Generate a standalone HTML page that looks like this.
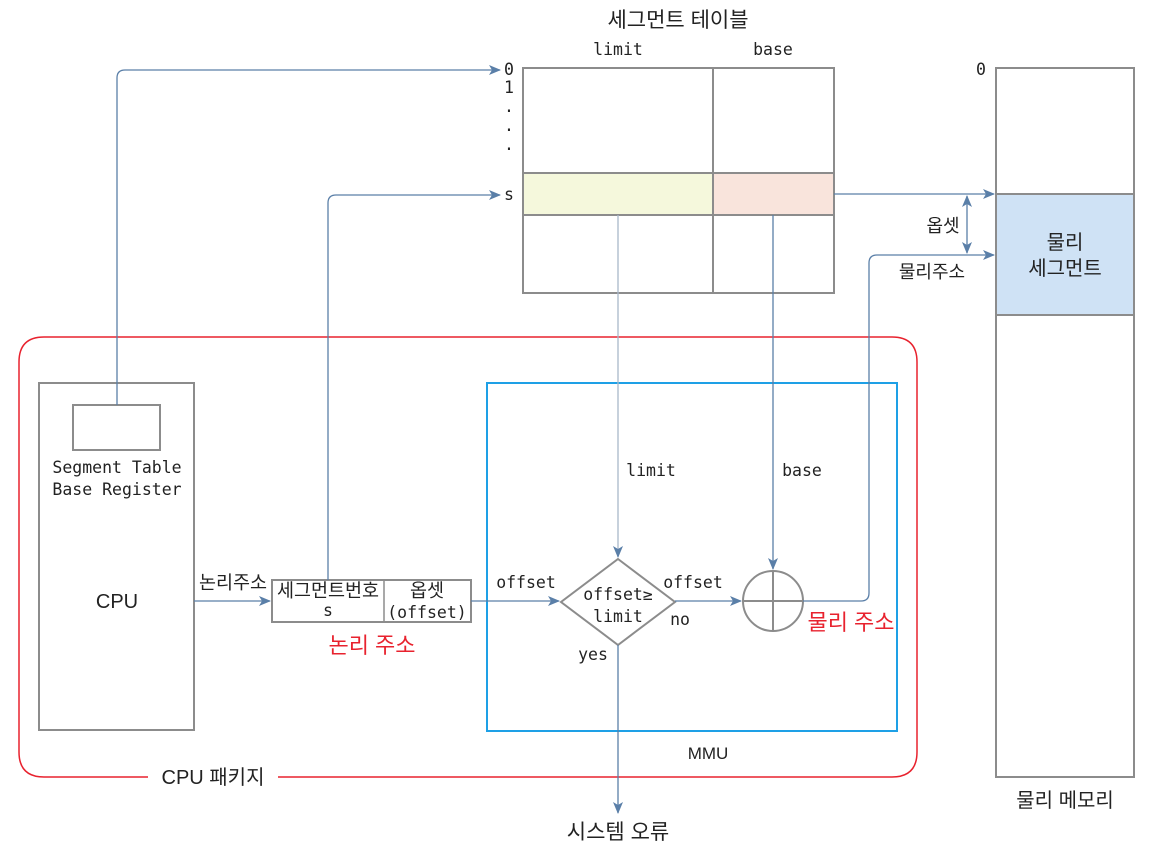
<!DOCTYPE html>
<html><head><meta charset="utf-8"><style>
html,body{margin:0;padding:0;background:#fff;}
svg{display:block;}
text{font-family:"Liberation Sans","Noto Sans CJK KR",sans-serif;font-size:20px;fill:#222;}
.m{font-family:"DejaVu Sans Mono","Liberation Mono","Noto Sans CJK KR",monospace;font-size:16.5px;}
.red{fill:#e8222e;font-size:22px;}
</style></head><body>
<svg width="1152" height="848" viewBox="0 0 1152 848" xmlns="http://www.w3.org/2000/svg">
<defs>
<marker id="a" markerWidth="12" markerHeight="10" refX="11" refY="5" orient="auto" markerUnits="userSpaceOnUse">
<path d="M0,0 L12,5 L0,10 L3,5 z" fill="#5a7fa8"/></marker>
<marker id="as" markerWidth="12" markerHeight="10" refX="1" refY="5" orient="auto" markerUnits="userSpaceOnUse">
<path d="M12,0 L0,5 L12,10 L9,5 z" fill="#5a7fa8"/></marker>
</defs>
<g fill="none" stroke-width="1.5">
<rect x="523" y="173" width="190" height="42" fill="#f5f8dc" stroke="none"/>
<rect x="713" y="173" width="121" height="42" fill="#f9e4dc" stroke="none"/>
<rect x="523" y="68" width="311" height="225" stroke="#8c8c8c" stroke-width="2"/>
<line x1="713" y1="68" x2="713" y2="293" stroke="#8c8c8c" stroke-width="2"/>
<line x1="523" y1="173" x2="834" y2="173" stroke="#8c8c8c" stroke-width="2"/>
<line x1="523" y1="215" x2="834" y2="215" stroke="#8c8c8c" stroke-width="2"/>
<rect x="996" y="194" width="138" height="121" fill="#cfe2f5" stroke="none"/>
<rect x="996" y="68" width="138" height="709" stroke="#8c8c8c" stroke-width="2"/>
<line x1="996" y1="194" x2="1134" y2="194" stroke="#8c8c8c" stroke-width="2"/>
<line x1="996" y1="315" x2="1134" y2="315" stroke="#8c8c8c" stroke-width="2"/>
<path d="M148,777 L44,777 Q19,777 19,752 L19,362 Q19,337 44,337 L892,337 Q917,337 917,362 L917,752 Q917,777 892,777 L278,777" stroke="#e8222e"/>
<rect x="39" y="383" width="155" height="347" stroke="#8c8c8c" stroke-width="2"/>
<rect x="73" y="405" width="87" height="45" stroke="#8c8c8c" stroke-width="2"/>
<rect x="487" y="383" width="410" height="348" stroke="#1ea0e6" stroke-width="2"/>
<rect x="272" y="580" width="199" height="42" stroke="#8c8c8c" stroke-width="2"/>
<line x1="384" y1="580" x2="384" y2="622" stroke="#8c8c8c" stroke-width="1.5"/>
<path d="M618,559 L675,602 L618,645 L561,602 z" stroke="#8c8c8c" stroke-width="2"/>
<circle cx="773" cy="601" r="30" stroke="#8c8c8c" stroke-width="2"/>
<line x1="743" y1="601" x2="803" y2="601" stroke="#8c8c8c" stroke-width="2"/>
<line x1="773" y1="571" x2="773" y2="631" stroke="#8c8c8c" stroke-width="2"/>
<g stroke="#5a7fa8" stroke-width="1.3">
<path d="M117,405 L117,78 Q117,70 125,70 L500,70" marker-end="url(#a)"/>
<path d="M328,580 L328,203 Q328,195 336,195 L500,195" marker-end="url(#a)"/>
<path d="M618,215 L618,557" stroke="#a9b8c9" marker-end="url(#a)"/>
<path d="M773,215 L773,569" marker-end="url(#a)"/>
<path d="M194,601 L270,601" marker-end="url(#a)"/>
<path d="M471,601 L559,601" marker-end="url(#a)"/>
<path d="M675,601 L741,601" marker-end="url(#a)"/>
<path d="M803,601 L861,601 Q869,601 869,593 L869,263 Q869,255 877,255 L994,255" marker-end="url(#a)"/>
<path d="M834,194 L994,194" marker-end="url(#a)"/>
<path d="M967,196 L967,253" marker-start="url(#as)" marker-end="url(#a)"/>
<path d="M618,645 L618,813" marker-end="url(#a)"/>
</g>
</g>
<text x="678" y="27" text-anchor="middle" style="font-size:21px">세그먼트 테이블</text>
<text class="m" x="618" y="55" text-anchor="middle">limit</text>
<text class="m" x="773" y="55" text-anchor="middle">base</text>
<text class="m" x="509" y="75" text-anchor="middle">0</text>
<text class="m" x="509" y="93" text-anchor="middle">1</text>
<text class="m" x="509" y="112" text-anchor="middle">.</text>
<text class="m" x="509" y="131" text-anchor="middle">.</text>
<text class="m" x="509" y="150" text-anchor="middle">.</text>
<text class="m" x="509" y="200" text-anchor="middle">s</text>
<text class="m" x="981" y="75" text-anchor="middle">0</text>
<text x="1065" y="249" text-anchor="middle">물리</text>
<text x="1065" y="275" text-anchor="middle">세그먼트</text>
<text x="1065" y="807" text-anchor="middle">물리 메모리</text>
<text x="943" y="232" text-anchor="middle" style="font-size:18px">옵셋</text>
<text x="932" y="278" text-anchor="middle" style="font-size:18px">물리주소</text>
<text class="m" x="117" y="473" text-anchor="middle">Segment Table</text>
<text class="m" x="117" y="495" text-anchor="middle">Base Register</text>
<text x="117" y="608" text-anchor="middle">CPU</text>
<text x="213" y="784" text-anchor="middle">CPU 패키지</text>
<text x="708" y="759" text-anchor="middle" style="font-size:17px">MMU</text>
<text x="233" y="589" text-anchor="middle" style="font-size:18.5px">논리주소</text>
<text x="328" y="597" text-anchor="middle" style="font-size:18.5px">세그먼트번호</text>
<text class="m" x="328" y="616" text-anchor="middle">s</text>
<text x="427" y="597" text-anchor="middle" style="font-size:18.5px">옵셋</text>
<text class="m" x="427" y="618" text-anchor="middle">(offset)</text>
<text class="red" x="372" y="653" text-anchor="middle">논리 주소</text>
<text class="red" x="851" y="630" text-anchor="middle">물리 주소</text>
<text class="m" x="526" y="588" text-anchor="middle">offset</text>
<text class="m" x="693" y="588" text-anchor="middle">offset</text>
<text class="m" x="618" y="600" text-anchor="middle">offset≥</text>
<text class="m" x="618" y="622" text-anchor="middle">limit</text>
<text class="m" x="680" y="625" text-anchor="middle">no</text>
<text class="m" x="593" y="660" text-anchor="middle">yes</text>
<text class="m" x="651" y="476" text-anchor="middle">limit</text>
<text class="m" x="802" y="476" text-anchor="middle">base</text>
<text x="618" y="839" text-anchor="middle" style="font-size:21px">시스템 오류</text>
</svg>
</body></html>
